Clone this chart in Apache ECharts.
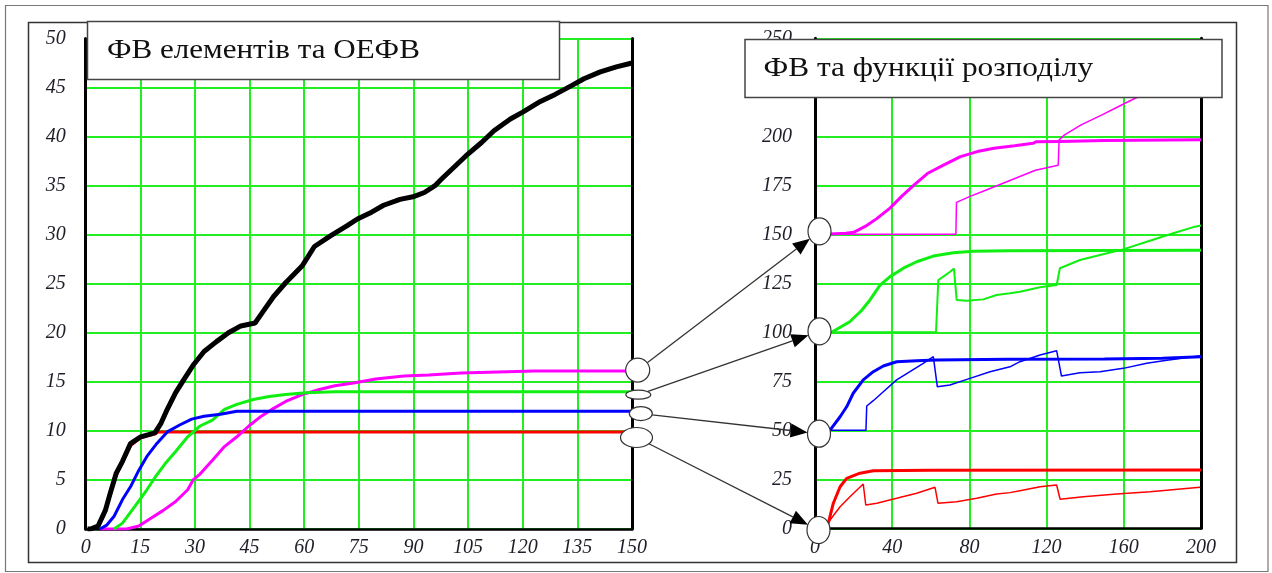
<!DOCTYPE html>
<html><head><meta charset="utf-8">
<script src="https://cdn.jsdelivr.net/npm/echarts/dist/echarts.min.js"></script>
<style>html,body{margin:0;padding:0;background:#fff}#c{width:1272px;height:573px}</style>
</head><body><div id="c"></div><script>
// ---------- data: left panel (x 0..150, y 0..50) ----------
var leftXTicks = [0, 150, 15];
var leftYTicks = [0, 50, 5];
var blackL = [[0.5,0],[1.3,0],[3.4,0.3],[5.4,1.9],[6.7,3.6],[8.4,5.7],[10.1,6.9],[12.3,8.7],[15.1,9.4],[19,9.8],[20.7,10.8],[22.4,12.2],[24.7,13.9],[26.9,15.2],[29.7,16.8],[32.5,18.1],[35.9,19.1],[39.2,20],[42.6,20.7],[46.5,21.0],[48.2,21.9],[51.6,23.7],[54.9,25.1],[59.4,26.8],[62.8,28.8],[67.3,29.9],[71.7,30.9],[74.6,31.6],[78.5,32.3],[81.8,33.0],[86.3,33.6],[90.2,33.9],[93,34.3],[95.9,35],[97.5,35.6],[100.9,36.8],[104.3,38],[108.7,39.4],[112.1,40.6],[116.6,41.8],[120,42.5],[124.4,43.5],[128.9,44.3],[133.4,45.2],[136.8,45.9],[141.3,46.6],[145.7,47.1],[150,47.5]];
var blueL = [[3.9,0],[5.8,0.4],[7.8,1.3],[10.1,3.0],[12.3,4.3],[14.6,6.0],[16.8,7.4],[19.6,8.75],[22.4,9.9],[25.8,10.6],[29.1,11.2],[32.5,11.5],[37,11.7],[41.5,12.0],[150,12.0]];
var greenL = [[7.8,0],[10.1,0.6],[13.5,2.3],[16.8,4.0],[19.1,5.3],[21.9,6.7],[24.7,7.9],[28,9.4],[31.4,10.5],[34.8,11.1],[38.1,12.2],[41.5,12.7],[46,13.2],[50.4,13.5],[54.9,13.7],[60.5,13.9],[68.4,14.0],[150,14.0]];
var magentaL = [[3.9,0],[11.2,0],[14.6,0.3],[17.9,1.1],[21.3,1.9],[24.7,2.8],[28,4.0],[29.5,5.0],[31.4,5.6],[34.8,7.0],[38.1,8.4],[41.5,9.4],[44.8,10.5],[48.2,11.5],[51.6,12.3],[54.9,13.0],[59.4,13.7],[63.9,14.2],[68.4,14.6],[74,14.9],[79.6,15.3],[87.4,15.6],[94.2,15.7],[103.1,15.9],[123.3,16.1],[150,16.1]];
var redL = [[1.3,0],[3.4,0.3],[5.4,1.9],[6.7,3.5],[8.4,5.5],[10.1,6.8],[12.3,8.5],[15.1,9.3],[19,9.7],[20,9.9],[150,9.9]];

// ---------- data: right panel (x 0..200, y 0..250) ----------
var rightXTicks = [0, 200, 40];
var rightYTicks = [0, 250, 25];
var rightOffsets = [150, 100, 50, 0];   // magenta, green, blue, red base levels
var magentaR = [[5,150],[16,150.5],[20,151],[26,154],[32,158],[39,163.5],[45,169.5],[51.7,175.5],[58.2,181],[66.8,185.4],[75.4,189.6],[84.1,192.2],[92.7,193.9],[103.4,195.2],[113,196.4],[114.5,197.2],[127,197.4],[150,197.8],[151,198.2],[200,198.2]];
var magentaRthin = [[5,150],[73,150],[73.3,166.3],[79.7,169.1],[88.4,172.5],[101.3,177.6],[114.2,182.7],[126,185.2],[126.5,198.2],[129.3,200.7],[137.9,205.8],[148.7,210.9],[157.3,215.2],[165.9,219.4],[171.3,221.5],[185,227],[200,233]];
var greenR = [[5,100],[8.6,100],[18,105.4],[24,111],[28.5,116.5],[33.7,124.1],[38.9,128.4],[45.8,132.7],[52.7,136],[61.3,138.9],[71.7,140.6],[82,141.3],[100,141.6],[200,141.8]];
var greenRthin = [[5,100],[62.7,100],[63.9,126.7],[66.5,128.4],[70,130.9],[72,132.5],[73.4,116.5],[78.6,116.1],[87.2,116.8],[94.1,119],[101,119.9],[106.2,120.7],[116.6,123],[125.2,124.1],[126.9,132.7],[137.3,136.9],[147.7,139.4],[159.7,142.3],[171.9,146.2],[185.6,150.5],[196.9,153.9],[200,154.5]];
var blueR = [[5,50],[8.1,50.5],[13,56.9],[16.4,62],[19.8,68.9],[25,75.7],[30.2,79.9],[35.4,82.8],[42.3,85],[52.7,85.5],[63,85.9],[100,86.2],[150,86.4],[180,86.8],[200,87.5]];
var blueRthin = [[5,50],[26.4,50],[26.8,62.4],[30.2,65.1],[35.4,69.7],[42.3,75.7],[49.2,79.9],[56.1,84.2],[61.3,87.6],[62.2,88.6],[63.4,72.2],[69.9,73.1],[80.3,76.5],[90.7,79.9],[101,82.4],[106.2,85],[116.6,88.4],[125.2,90.6],[127.7,77.7],[137.3,79.4],[147.7,79.9],[159.7,81.6],[171.9,84.2],[180.5,85.5],[190,86.8],[200,88]];
var redR = [[4,0],[6.9,2.6],[9.5,12.8],[13,21.2],[16.4,25.5],[23.3,28.1],[30.2,29.4],[60,29.6],[200,29.7]];
var redRthin = [[4,0],[7.8,4.2],[13,11],[18.1,16.1],[25,22.6],[26.3,11.9],[32,12.8],[42.3,15.3],[52.7,17.9],[62.2,20.9],[63.7,12.8],[73.4,13.6],[83.8,15.3],[94.1,17.5],[101,18.2],[106.2,19.2],[116.6,21.2],[125.2,22.1],[127,14.8],[139,16.1],[156.3,17.5],[173.6,18.7],[199.5,20.9]];

var titleLeft = 'ФВ елементів та ОЕФВ';
var titleRight = 'ФВ та функції розподілу';

// ---------- styles ----------
var GRIDC = '#22ee22';
var C = {black:'#000000', blue:'#0000ff', green:'#11ee11', magenta:'#ff00ff', red:'#ff0000'};
var lblStyle = {fontFamily:'Liberation Serif', fontStyle:'italic', fontSize:20, color:'#1e1e28'};

function xAx(gi, t, margin) {
  return {type:'value', gridIndex:gi, min:t[0], max:t[1], interval:t[2],
    axisLine:{show:true, onZero:false, lineStyle:{color:'#000', width:2.5}},
    axisTick:{show:false},
    axisLabel:Object.assign({margin:margin}, lblStyle),
    splitLine:{show:true, lineStyle:{color:GRIDC, width:2}}};
}
function yAx(gi, t, margin) {
  return {type:'value', gridIndex:gi, min:t[0], max:t[1], interval:t[2],
    axisLine:{show:true, onZero:false, lineStyle:{color:'#000', width:3}},
    axisTick:{show:false},
    axisLabel:Object.assign({margin:margin}, lblStyle),
    splitLine:{show:true, lineStyle:{color:GRIDC, width:2}}};
}
function yRight(gi, t) {
  return {type:'value', gridIndex:gi, position:'right', min:t[0], max:t[1], interval:t[2],
    axisLine:{show:true, onZero:false, lineStyle:{color:'#000', width:3}},
    axisTick:{show:false}, axisLabel:{show:false}, splitLine:{show:false}};
}
function line(name, data, color, width, xi, yi) {
  return {name:name, type:'line', data:data, xAxisIndex:xi, yAxisIndex:yi,
    showSymbol:false, symbol:'none', animation:false, silent:true,
    lineStyle:{color:color, width:width}, z:2};
}

var chart = echarts.init(document.getElementById('c'), null, {renderer:'canvas'});
chart.setOption({
  animation:false,
  backgroundColor:'#fff',
  grid:[
    {left:85.7, top:38.5, width:546.3, height:490.5},
    {left:815, top:38.3, width:386, height:490}
  ],
  xAxis:[xAx(0, leftXTicks, 9), xAx(1, rightXTicks, 9)],
  yAxis:[yAx(0, leftYTicks, 20), yAx(1, rightYTicks, 23), yRight(0, leftYTicks), yRight(1, rightYTicks)],
  series:[
    line('redL', redL, C.red, 3, 0, 0),
    line('magentaL', magentaL, C.magenta, 3, 0, 0),
    line('greenL', greenL, C.green, 3, 0, 0),
    line('blueL', blueL, C.blue, 3, 0, 0),
    line('blackL', blackL, C.black, 5, 0, 0),
    line('magentaR', magentaR, C.magenta, 3, 1, 1),
    line('greenR', greenR, C.green, 3, 1, 1),
    line('blueR', blueR, C.blue, 3, 1, 1),
    line('redR', redR, C.red, 3, 1, 1),
    line('magentaRthin', magentaRthin, C.magenta, 1.5, 1, 1),
    line('greenRthin', greenRthin, C.green, 2, 1, 1),
    line('blueRthin', blueRthin, C.blue, 1.5, 1, 1),
    line('redRthin', redRthin, C.red, 1.5, 1, 1)
  ]
});

// ---------- annotation graphics derived from data ----------
function px0(p){ return chart.convertToPixel({xAxisIndex:0, yAxisIndex:0}, p); }
function px1(p){ return chart.convertToPixel({xAxisIndex:1, yAxisIndex:1}, p); }
var leftSeries = [magentaL, greenL, blueL, redL];
var leftEll = [ {dx:5.7, dy:-1, rx:12, ry:12}, {dx:6.3, dy:3, rx:12.5, ry:4.5}, {dx:8.8, dy:2.3, rx:11.5, ry:7}, {dx:4.5, dy:5.6, rx:16, ry:10} ];
var rightEll = [ {dx:4.5, dy:-3}, {dx:4.5, dy:-1}, {dx:4, dy:3.4}, {dx:3.5, dy:1.7} ];
var g = [];
g.push({type:'rect', shape:{x:5.5, y:5.5, width:1262.5, height:566}, style:{fill:null, stroke:'#777', lineWidth:1.2}, z:50, silent:true});
g.push({type:'rect', shape:{x:28.5, y:22.5, width:1208, height:540}, style:{fill:null, stroke:'#333', lineWidth:1.5}, z:50, silent:true});
g.push({type:'rect', shape:{x:87.5, y:21.5, width:472, height:58}, style:{fill:'#fff', stroke:'#444', lineWidth:1.5}, z:100, silent:true});
g.push({type:'text', x:107, y:51, scaleX:1.15, style:{text:titleLeft, font:'27px "Liberation Serif"', fill:'#111', verticalAlign:'middle'}, z:101, silent:true});
g.push({type:'rect', shape:{x:745, y:39.5, width:477, height:58}, style:{fill:'#fff', stroke:'#444', lineWidth:1.5}, z:100, silent:true});
g.push({type:'text', x:763.5, y:69, scaleX:1.16, style:{text:titleRight, font:'27px "Liberation Serif"', fill:'#111', verticalAlign:'middle'}, z:101, silent:true});

for (var i = 0; i < 4; i++) {
  var s = leftSeries[i], last = s[s.length - 1];
  var a = px0([last[0], last[1]]);
  var L = {cx:a[0] + leftEll[i].dx, cy:a[1] + leftEll[i].dy, rx:leftEll[i].rx, ry:leftEll[i].ry};
  var b = px1([0, rightOffsets[i]]);
  var R = {cx:b[0] + rightEll[i].dx, cy:b[1] + rightEll[i].dy, rx:11.5, ry:13.5};
  var dx = R.cx - L.cx, dy = R.cy - L.cy, len = Math.sqrt(dx*dx + dy*dy);
  var ux = dx/len, uy = dy/len;
  var tL = 1/Math.sqrt((ux/L.rx)*(ux/L.rx) + (uy/L.ry)*(uy/L.ry));
  var tR = 1/Math.sqrt((ux/R.rx)*(ux/R.rx) + (uy/R.ry)*(uy/R.ry));
  var S = [L.cx + ux*tL, L.cy + uy*tL];
  var T = [R.cx - ux*tR, R.cy - uy*tR];
  var AL = 17, AW = 7;
  var B = [T[0] - ux*AL, T[1] - uy*AL];
  g.push({type:'line', shape:{x1:S[0], y1:S[1], x2:B[0], y2:B[1]}, style:{stroke:'#333', lineWidth:1.3}, z:90, silent:true});
  g.push({type:'polygon', shape:{points:[T, [B[0] - uy*AW, B[1] + ux*AW], [B[0] + uy*AW, B[1] - ux*AW]]}, style:{fill:'#000'}, z:91, silent:true});
  g.push({type:'ellipse', shape:L, style:{fill:'#fff', stroke:'#333', lineWidth:1.2}, z:95, silent:true});
  g.push({type:'ellipse', shape:R, style:{fill:'#fff', stroke:'#333', lineWidth:1.2}, z:95, silent:true});
}
chart.setOption({graphic:{elements:g}});
</script></body></html>
